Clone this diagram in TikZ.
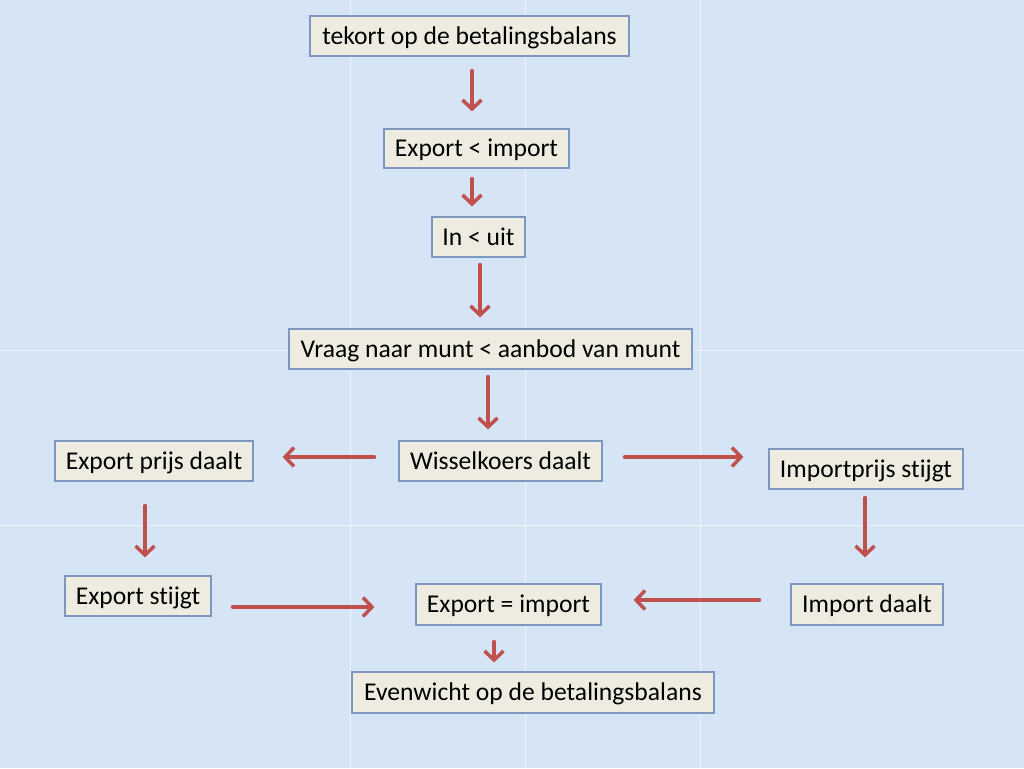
\documentclass[tikz,border=0pt]{standalone}
\usepackage{fontspec}
\setmainfont{Carlito}[Ligatures={NoCommon}]
\usetikzlibrary{arrows.meta}
\definecolor{bgblue}{RGB}{213,229,245}
\definecolor{boxfill}{RGB}{238,236,225}
\definecolor{boxline}{RGB}{125,152,190}
\definecolor{arrred}{RGB}{192,80,77}
\tikzset{
  box/.style={draw=boxline, fill=boxfill, line width=1.2pt, minimum height=40pt,
    inner xsep=0pt, inner ysep=0pt, text height=18pt, text depth=1.5pt,
    font=\fontsize{25.6}{30}\selectfont, text=black},
  arr/.style={draw=arrred, line width=3.5pt, line cap=round, line join=round,
    -{Straight Barb[length=9pt,width=19pt,line width=3.5pt]}},
  gridln/.style={draw=white, line width=0.8pt, opacity=0.6}
}
\begin{document}
\begin{tikzpicture}[x=1pt,y=-1pt]
\fill[bgblue] (0,0) rectangle (1024,768);
\useasboundingbox (0,0) rectangle (1024,768);
\foreach \gx in {350,525,700} \draw[gridln] (\gx,0) -- (\gx,768);
\foreach \gy in {350,525} \draw[gridln] (0,\gy) -- (1024,\gy);

\node[box, minimum width=319pt] (n1) at (469.5,36) {tekort op de betalingsbalans};
\node[box, minimum width=185pt, minimum height=39pt] (n2) at (476.5,148.5) {Export < import};
\node[box, minimum width=93pt] (n3) at (478.5,237) {In < uit};
\node[box, minimum width=403pt] (n4) at (490.5,349) {Vraag naar munt < aanbod van munt};
\node[box, minimum width=203pt] (n5) at (500.5,461) {Wisselkoers daalt};
\node[box, minimum width=198pt] (n6) at (154,461) {Export prijs daalt};
\node[box, minimum width=194pt] (n7) at (866,469) {Importprijs stijgt};
\node[box, minimum width=146pt] (n8) at (138,596) {Export stijgt};
\node[box, minimum width=185pt, minimum height=41pt] (n9) at (508.5,604.5) {Export = import};
\node[box, minimum width=152pt, minimum height=41pt] (n10) at (867,604.5) {Import daalt};
\node[box, minimum width=362pt, minimum height=41pt] (n11) at (533,692.5) {Evenwicht op de betalingsbalans};

% vertical arrows
\draw[arr, shorten <=14pt, shorten >=17pt] ([xshift=2.5pt]n1.south) -- ([xshift=-4.5pt]n2.north);
\draw[arr, shorten <=10pt, shorten >=10pt] ([xshift=-4.5pt]n2.south) -- ([xshift=-6.5pt]n3.north);
\draw[arr, shorten <=7pt, shorten >=11pt] ([xshift=1.5pt]n3.south) -- ([xshift=-10.5pt]n4.north);
\draw[arr, shorten <=7pt, shorten >=11pt] ([xshift=-2.5pt]n4.south) -- ([xshift=-12.5pt]n5.north);
\draw[arr, shorten <=24pt, shorten >=18pt] ([xshift=-9pt]n6.south) -- ([xshift=7pt]n8.north);
\draw[arr, shorten <=8pt, shorten >=26pt] ([xshift=-1pt]n7.south) -- ([xshift=-2pt]n10.north);
\draw[arr, shorten <=16pt, shorten >=9pt] ([xshift=-14.5pt]n9.south) -- ([xshift=-39pt]n11.north);
% horizontal arrows
\draw[arr, shorten <=24pt, shorten >=29pt] ([yshift=4pt]n5.west) -- ([yshift=4pt]n6.east);
\draw[arr, shorten <=22pt, shorten >=25pt] ([yshift=4pt]n5.east) -- ([yshift=12pt]n7.west);
\draw[arr, shorten <=21pt, shorten >=41pt] ([yshift=-11pt]n8.east) -- ([yshift=-2.5pt]n9.west);
\draw[arr, shorten <=31pt, shorten >=32pt] ([yshift=4.5pt]n10.west) -- ([yshift=4.5pt]n9.east);
\end{tikzpicture}
\end{document}
